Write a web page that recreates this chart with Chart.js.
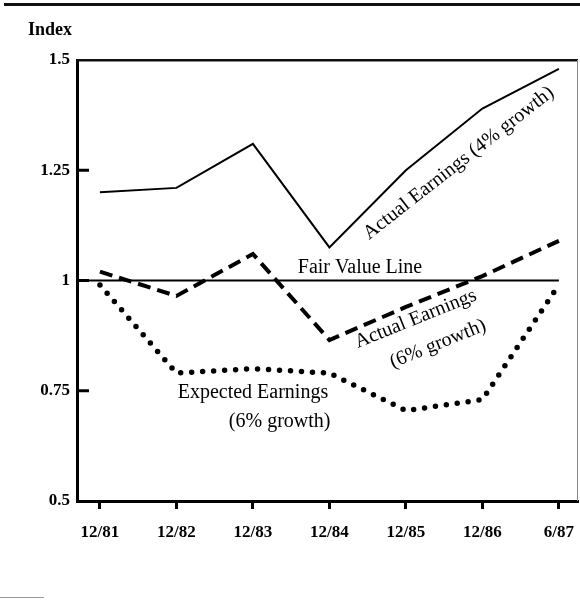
<!DOCTYPE html>
<html>
<head>
<meta charset="utf-8">
<script src="https://cdn.jsdelivr.net/npm/chart.js@4.4.1/dist/chart.umd.min.js"></script>
<style>
  html, body { margin: 0; padding: 0; background: #fff; }
  #wrap { width: 580px; height: 600px; }
</style>
</head>
<body>
<div id="wrap"><canvas id="indexChart" width="580" height="600"></canvas></div>
<script>
// categories and values
const xLabels = ['12/81', '12/82', '12/83', '12/84', '12/85', '12/86', '6/87'];
const yTickValues = [0.5, 0.75, 1, 1.25, 1.5];
const yTickLabels = ['0.5', '0.75', '1', '1.25', '1.5'];
const actual4 = [1.20, 1.21, 1.31, 1.075, 1.25, 1.39, 1.48];
const actual6 = [1.02, 0.965, 1.06, 0.865, 0.94, 1.01, 1.09];
const expected6 = [0.99, 0.79, 0.80, 0.79, 0.705, 0.73, 0.99];
const fairValue = 1;

const X_MIN = -0.3, X_MAX = 6.25;
const SERIF = '"Liberation Serif", "DejaVu Serif", serif';

const toPoints = arr => arr.map((v, i) => ({ x: i, y: v }));

// text labels placed in data coordinates
const notes = [
  { text: 'Fair Value Line', x: 3.40, y: 1.028, rot: 0 },
  { text: 'Expected Earnings', x: 2.0, y: 0.745, rot: 0 },
  { text: '(6% growth)', x: 2.35, y: 0.679, rot: 0 },
  { text: 'Actual Earnings (4% growth)', x: 4.69, y: 1.266, rot: -38 },
  { text: 'Actual Earnings', x: 4.13, y: 0.913, rot: -22 },
  { text: '(6% growth)', x: 4.42, y: 0.856, rot: -22 }
];

const decorations = {
  id: 'decorations',
  afterDatasetsDraw(chart) {
    const { ctx, chartArea, scales } = chart;
    const xs = scales.x, ys = scales.y;
    ctx.save();
    // top rule of the page
    ctx.fillStyle = '#111';
    ctx.fillRect(4, 3, 576, 3);
    // faint scrap bottom left
    ctx.fillStyle = '#999';
    ctx.fillRect(0, 597, 44, 1);
    // box top and right edges
    ctx.fillStyle = '#111';
    ctx.fillRect(chartArea.left, chartArea.top - 1, chartArea.right - chartArea.left, 2.5);
    ctx.fillStyle = '#888';
    ctx.fillRect(chartArea.right - 1, chartArea.top, 1, chartArea.bottom - chartArea.top);
    // inner y tick marks
    ctx.fillStyle = '#000';
    [0.75, 1, 1.25].forEach(v => {
      const py = ys.getPixelForValue(v);
      ctx.fillRect(chartArea.left, py - 1.5, 12, 3);
    });
    // axis title
    ctx.font = 'bold 18px ' + SERIF;
    ctx.textAlign = 'left';
    ctx.textBaseline = 'middle';
    ctx.fillText('Index', 28, 30);
    // annotations
    ctx.font = '20px ' + SERIF;
    ctx.textAlign = 'center';
    notes.forEach(n => {
      ctx.save();
      ctx.translate(xs.getPixelForValue(n.x), ys.getPixelForValue(n.y));
      ctx.rotate(n.rot * Math.PI / 180);
      ctx.fillText(n.text, 0, 0);
      ctx.restore();
    });
    ctx.restore();
  }
};

new Chart(document.getElementById('indexChart'), {
  type: 'line',
  data: {
    datasets: [
      {
        label: 'Actual Earnings (4% growth)',
        data: toPoints(actual4),
        borderColor: '#000',
        borderWidth: 2,
        pointRadius: 0,
        tension: 0
      },
      {
        label: 'Actual Earnings (6% growth)',
        data: toPoints(actual6),
        borderColor: '#000',
        borderWidth: 4,
        borderDash: [13, 7],
        pointRadius: 0,
        tension: 0
      },
      {
        label: 'Expected Earnings (6% growth)',
        data: toPoints(expected6),
        borderColor: '#000',
        borderWidth: 5.5,
        borderDash: [0, 11],
        borderCapStyle: 'round',
        pointRadius: 0,
        tension: 0
      },
      {
        label: 'Fair Value Line',
        data: [{ x: X_MIN, y: fairValue }, { x: xLabels.length - 1, y: fairValue }],
        borderColor: '#000',
        borderWidth: 2,
        pointRadius: 0
      }
    ]
  },
  options: {
    responsive: false,
    animation: false,
    clip: false,
    layout: { padding: { top: 60, right: 2, left: 0, bottom: 0 } },
    plugins: {
      legend: { display: false },
      tooltip: { enabled: false }
    },
    scales: {
      x: {
        type: 'linear',
        min: X_MIN,
        max: X_MAX,
        afterBuildTicks: s => { s.ticks = xLabels.map((_, i) => ({ value: i })); },
        afterFit: s => {
          s.height = 99;
          s.paddingLeft = 0;
          s.paddingRight = 0;
        },
        border: { display: true, color: '#000', width: 3 },
        grid: {
          drawOnChartArea: false,
          drawTicks: true,
          tickLength: 8,
          tickWidth: 3,
          tickColor: '#000'
        },
        ticks: {
          autoSkip: false,
          maxRotation: 0,
          padding: 13,
          color: '#000',
          font: { family: SERIF, size: 17, weight: 'bold' },
          callback: v => xLabels[v]
        }
      },
      y: {
        min: 0.5,
        max: 1.5,
        afterBuildTicks: s => { s.ticks = yTickValues.map(v => ({ value: v })); },
        afterFit: s => {
          s.width = 77;
          s.paddingTop = 0;
          s.paddingBottom = 0;
        },
        border: { display: true, color: '#000', width: 3 },
        grid: { drawOnChartArea: false, drawTicks: false },
        ticks: {
          padding: 7,
          color: '#000',
          font: { family: SERIF, size: 17, weight: 'bold' },
          callback: v => yTickLabels[yTickValues.indexOf(v)]
        }
      }
    }
  },
  plugins: [decorations]
});
</script>
</body>
</html>
